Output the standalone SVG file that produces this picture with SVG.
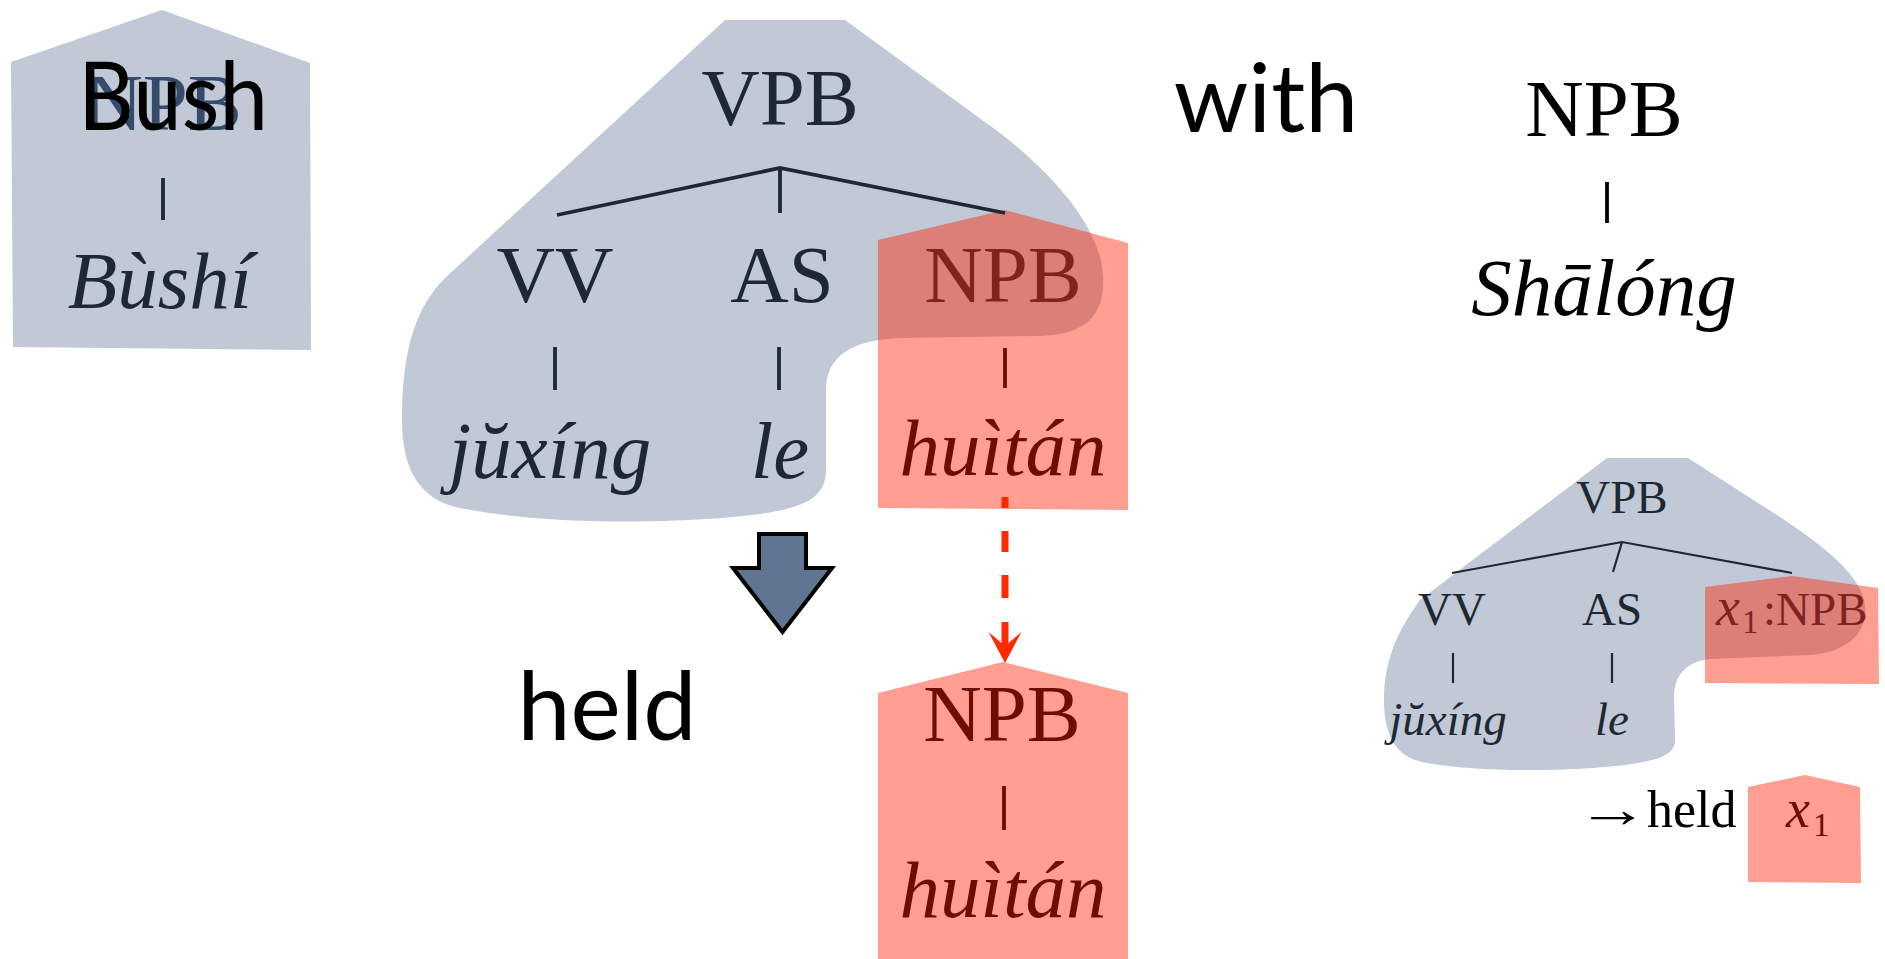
<svg xmlns="http://www.w3.org/2000/svg" width="1885" height="959" viewBox="0 0 1885 959">
<style>
.gray{fill:#c0c9d5}
.red{fill:#ff1e00;fill-opacity:0.43}
.t{font-family:"Liberation Serif","Times New Roman",serif;text-anchor:middle}
.big{font-size:81px}
.sm{font-size:47px}
.it{font-style:italic}
.dk{fill:#1e2833}
.rd{fill:#6d0d00}
.rdo{fill:#7e241d}
.blk{fill:#000}
.sans{font-family:Lato,"Open Sans",sans-serif;font-size:95px;fill:#000}
.ln{stroke:#1e2833;stroke-width:3.8;fill:none}
.lns{stroke:#1e2833;stroke-width:2.2;fill:none}
.lnr{stroke:#6d0d00;stroke-width:3.8;fill:none}
.lnk{stroke:#000;stroke-width:3.8;fill:none}
</style>
<defs>
<marker id="redhead" markerUnits="userSpaceOnUse" viewBox="-20 -20 40 40" refX="0" refY="0" markerWidth="40" markerHeight="40" orient="auto">
<path d="M15,0 L-16,16.5 L-2,0 L-16,-16.5 Z" fill="#ff2a00"/>
</marker>
</defs>
<rect width="1885" height="959" fill="#fff"/>

<g id="node-bush">
<path class="gray" d="M162 10 L310 63 L311 350 L13 347 L11 62 Z"/>
<text class="t big" x="163" y="130" fill="#344b6c">NPB</text>
<line class="ln" x1="163" y1="178" x2="163" y2="220"/>
<text class="t big it dk" x="160" y="308">Bùshí</text>
<text class="sans" x="78" y="130" textLength="190" lengthAdjust="spacingAndGlyphs">Bush</text>
</g>

<g id="node-vpb">
<path class="gray" d="M725 20 L845 20 L1000 133 C1060 180 1100 230 1103 275 C1106 320 1080 335 1040 336 L900 338 C860 340 830 350 826 385 L826 470 C826 500 800 508 760 514 C700 522 560 528 460 508 C420 500 402 470 402 420 C402 345 418 305 445 278 Z"/>
<path class="red" d="M1005 210 L1128 243 L1128 510 L878 508 L878 240 Z"/>
<path class="ln" d="M557 215 L780 168 L1005 213 M780 168 V213 M555 347 V390 M779 347 V390"/>
<line class="lnr" x1="1005" y1="348" x2="1005" y2="388"/>
<text class="t big dk" x="780" y="125">VPB</text>
<text class="t big dk" x="555" y="302">VV</text>
<text class="t big dk" x="782" y="302">AS</text>
<text class="t big rdo" x="1003" y="302">NPB</text>
<text class="t big it dk" x="550" y="478">jŭxíng</text>
<text class="t big it dk" x="780" y="478">le</text>
<text class="t big it rd" x="1003" y="475">huìtán</text>
</g>

<g id="node-with">
<text class="sans" x="1266" y="132" text-anchor="middle">with</text>
</g>

<g id="node-npb-shalong">
<text class="t big blk" x="1604" y="136">NPB</text>
<line class="lnk" x1="1607" y1="182" x2="1607" y2="223"/>
<text class="t big it blk" x="1604" y="315">Shālóng</text>
</g>

<g id="node-down-arrow">
<path d="M759 534 H806 V568 H832 L782.5 632 L733 568 H759 Z" fill="#5f7591" stroke="#000" stroke-width="4"/>
</g>

<g id="node-held">
<text class="sans" x="607" y="740" text-anchor="middle">held</text>
</g>

<g id="node-npb-huitan">
<path class="red" d="M1003 662 L1128 693 L1128 959 L878 959 L878 693 Z"/>
<text class="t big rd" x="1002" y="741">NPB</text>
<line class="lnr" x1="1004" y1="786" x2="1004" y2="830"/>
<text class="t big it rd" x="1003" y="917">huìtán</text>
</g>

<g id="node-rule">
<path class="gray" d="M1607 458 L1688 458 L1780 517 C1830 550 1862 578 1865 605 C1868 635 1845 652 1810 655 L1710 659 C1690 661 1675 672 1674 695 L1675 738 C1676 755 1660 760 1625 765 C1570 772 1460 773 1415 760 C1393 752 1384 730 1384 700 C1384 660 1398 630 1420 600 Z"/>
<path class="red" d="M1792 576 L1878 588 L1879 684 L1705 683 L1705 587 Z"/>
<path class="lns" d="M1452 573 L1622 542 L1792 573 M1622 542 L1613 572 M1453 653 V683 M1612 653 V683"/>
<text class="t sm dk" x="1622" y="513">VPB</text>
<text class="t sm dk" x="1452" y="625">VV</text>
<text class="t sm dk" x="1612" y="625">AS</text>
<text class="t sm rdo" style="text-anchor:start"><tspan x="1716" y="625" class="it" font-size="54">x</tspan><tspan x="1742" y="633" font-size="33">1</tspan><tspan x="1763" y="625">:NPB</tspan></text>
<text class="t sm it dk" x="1448" y="735">jŭxíng</text>
<text class="t sm it dk" x="1612" y="735">le</text>
<text class="t blk" transform="matrix(1.4 0 0 1 1576 0)" x="0" y="827" font-size="52" style="text-anchor:start">→</text>
<text class="t blk" x="1647" y="827" font-size="52" style="text-anchor:start">held</text>
<path class="red" d="M1805 775 L1860 787 L1861 883 L1748 882 L1748 787 Z"/>
<text class="t rd" style="text-anchor:start"><tspan x="1786" y="827" class="it" font-size="54">x</tspan><tspan x="1813" y="836" font-size="33">1</tspan></text>
</g>

<g id="connectors">
<path d="M1005 497 V508 M1005 531 V552 M1005 575 V598 M1005 622 V648" stroke="#ff2a00" stroke-width="7" fill="none" marker-end="url(#redhead)"/>
</g>
</svg>
